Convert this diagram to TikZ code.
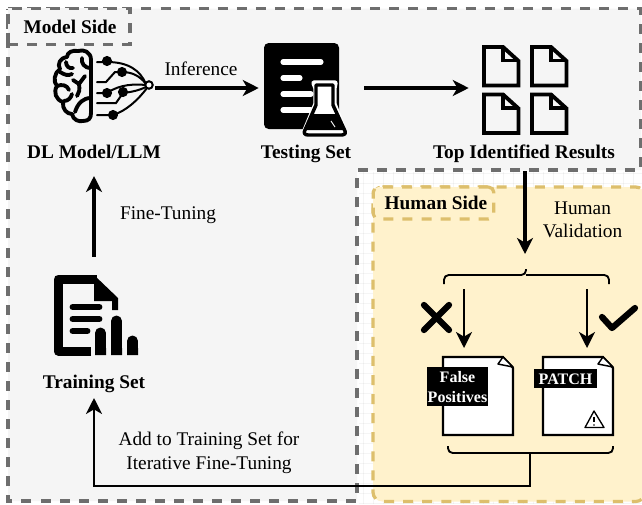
\documentclass[tikz,border=0pt]{standalone}
\usepackage{fontspec}
\setmainfont{Liberation Serif}
\usetikzlibrary{arrows.meta}
\definecolor{sidegray}{HTML}{F5F5F5}
\definecolor{dashgray}{HTML}{6E6E6E}
\definecolor{sideyellow}{HTML}{FFF2CC}
\definecolor{dashyellow}{HTML}{DDBF6C}
\tikzset{
  x=0.75pt,y=-0.75pt,
  graydash/.style={draw=dashgray,line width=2.4pt,dash pattern=on 7.5pt off 6.8pt},
  yellowdash/.style={draw=dashyellow,line width=2.4pt,dash pattern=on 7.5pt off 6.8pt},
  grayzone/.style={graydash,fill=sidegray},
  yellowzone/.style={yellowdash,fill=sideyellow,rounded corners=7pt},
  flow/.style={line width=2.3pt,-{Stealth[length=12pt,width=12pt,inset=3.5pt]}},
  thinflow/.style={line width=1.8pt,-{Stealth[length=12pt,width=12pt,inset=3.5pt]}},
  iconline/.style={line width=2.9pt,line join=round,line cap=round},
  bracket/.style={line width=1.4pt,rounded corners=3.5pt},
  title/.style={font=\fontsize{14.5pt}{17pt}\selectfont\bfseries,inner sep=0pt,anchor=base},
  plain/.style={font=\fontsize{14.5pt}{17pt}\selectfont,inner sep=0pt,anchor=base},
  inverse/.style={fill=black,text=white,inner sep=0pt},
  inversetext/.style={text=white,font=\fontsize{12pt}{14pt}\selectfont\bfseries,inner sep=0pt,anchor=base},
  docpage/.style={draw=black,fill=white,line width=1.6pt,line join=miter},
  faintgrid/.style={draw=black,opacity=0.04,line width=0.5pt},
}
\begin{document}
\begin{tikzpicture}
\useasboundingbox (0,0) rectangle (642,504);
\fill[white] (0,0) rectangle (642,504);
% zones
\path[grayzone] (8,8.5) -- (641,8.5) -- (641,170) -- (357,170) -- (357,501) -- (8,501) -- cycle;
\foreach \gx in {363,373,...,633}{\draw[faintgrid] (\gx,172) -- (\gx,504);}
\foreach \gy in {173,183,...,503}{\draw[faintgrid] (359,\gy) -- (642,\gy);}
\path[yellowzone] (373,187) -- (645,187) -- (645,501.5) -- (373,501.5) -- cycle;
\node[graydash,fill=sidegray,minimum width=91.5pt,minimum height=27.5pt,inner sep=0pt] (modeltab) at (69,26.5) {};
\node[title] (modellabel) at (70,33) {Model Side};
\node[yellowdash,fill=sideyellow,rounded corners=4pt,minimum width=90.5pt,minimum height=24pt,inner sep=0pt] (humantab) at (433.5,203) {};
\node[title] (humanlabel) at (436,209) {Human Side};

% invisible icon frames used as connector ends
\node[inner sep=0pt,minimum width=78pt,minimum height=57pt] (brain) at (103,88) {};
\node[inner sep=0pt,minimum width=78.75pt,minimum height=69pt] (testing) at (311.5,88) {};
\node[inner sep=0pt,minimum width=84pt,minimum height=124.5pt] (results) at (525,88) {};
\node[inner sep=0pt,minimum width=60pt,minimum height=121.5pt] (training) at (94,338) {};
\coordinate (toptip) at (525,254);
\coordinate (leftin) at (464,348);
\coordinate (leftout) at (464,289);
\coordinate (rightin) at (587,348);
\coordinate (rightout) at (587,289);
\coordinate (modeltop) at (94,176);
\coordinate (trainin) at (94,398);
\coordinate (bracestem) at (530,453);

% connectors
\draw[flow] (brain.east) -- (testing.west);
\draw[flow] (testing.east) -- (results.west);
\draw[flow] (training.north) -- (modeltop);
\draw[flow] (results.south) -- (toptip);
\draw[thinflow] (leftout) -- (leftin);
\draw[thinflow] (rightout) -- (rightin);
\draw[line width=1.4pt,-{Stealth[length=12pt,width=12pt,inset=3.5pt]}] (bracestem) -- (530,486) -- (94,486) -- (trainin);

% labels
\node[plain] (inf) at (201,75) {Inference};
\node[plain] (fine) at (168,219) {Fine-Tuning};
\node[plain] (hv1) at (582.5,214) {Human};
\node[plain] (hv2) at (582.5,237) {Validation};
\node[plain] (add1) at (209,445) {Add to Training Set for};
\node[plain] (add2) at (209,469) {Iterative Fine-Tuning};
\node[title] (lbrain) at (94,158.5) {DL Model/LLM};
\node[title] (ltesting) at (306,158) {Testing Set};
\node[title] (lresults) at (524,158) {Top Identified Results};
\node[title] (ltraining) at (94,388) {Training Set};

% brain icon
\begin{scope}[iconline]
\draw (91,60) .. controls (91,52) and (84,49) .. (78,51) .. controls (73,50) and (67,52) .. (67,57)
 .. controls (60,58) and (57,64) .. (60,69) .. controls (54,73) and (53,82) .. (57,86)
 .. controls (53,92) and (56,100) .. (63,102) .. controls (62,109) and (67,114) .. (72,114)
 .. controls (73,120) and (79,122) .. (83,121) .. controls (89,121) and (91,118) .. (91,113) -- cycle;
\draw (91,68) .. controls (84,68) and (81,63) .. (82,58);
\draw (66,62) .. controls (66,66) and (69,69) .. (73,68);
\draw (60,72) .. controls (65,75) and (68,76) .. (72,74);
\draw (85,76) -- (79,84) -- (73,80);
\draw (79,84) .. controls (80,90) and (79,93) .. (77,96);
\draw (57,86) .. controls (62,84) and (67,85) .. (69,90);
\draw (64,101) .. controls (68,101) and (71,98) .. (72,94);
\draw (91,98) .. controls (83,98) and (78,103) .. (75,112);
\end{scope}
\begin{scope}[line width=1.5pt,line cap=round]
\draw (97,62) -- (107,62) .. controls (128,62) and (140,70) .. (146,84);
\draw (97,82) -- (106,82) -- (115,72) -- (122,72) .. controls (132,72) and (140,76) .. (146,84);
\draw (97,93) -- (107,93) .. controls (120,84) and (135,84) .. (146,85);
\draw (97,103) -- (116,103) -- (123,93) .. controls (132,92) and (140,90) .. (146,87);
\draw (97,115) -- (113,115) .. controls (126,111) and (138,100) .. (147,88);
\fill (107,61) circle[radius=3.8pt] (122,72) circle[radius=3.8pt] (107,93) circle[radius=3.8pt] (123,92) circle[radius=3.8pt] (113,115) circle[radius=3.8pt];
\draw[fill=white] (149,85) circle[radius=2.8pt];
\end{scope}

% testing set icon
\fill[rounded corners=3.5pt] (264,43) rectangle (339,129);
\begin{scope}[white,line width=3.8pt,line cap=round]
\draw (283,62) -- (321,62);
\draw (283,78) -- (300,78);
\draw (283,94) -- (311,94);
\draw (283,110) -- (311,110);
\end{scope}
\path[fill=white,draw=white,line width=4pt,line join=round] (314,83) -- (335,83) -- (334,88) -- (334,104) -- (345,133) -- (304,133) -- (316,104) -- (316,88) -- cycle;
\draw[fill=white,line width=2.6pt,line join=round] (316,85) -- (333,85) -- (333,105) -- (345,131) .. controls (346,134) and (344,135) .. (342,135) -- (308,135) .. controls (305,135) and (303,133) .. (305,130) -- (316,105) -- cycle;
\fill (311,114) -- (338,114) -- (344,130) -- (306,130) -- cycle;
\draw[white,line width=.7pt] (331,121) -- (335,127);

% results icons
\foreach \dx/\dy in {0/0,48/0,0/47.5,48/47.5}{
\begin{scope}[shift={(\dx*.75pt,-\dy*.75pt)}]
\draw[line width=2.9pt,line join=miter] (484,47) -- (503,47) -- (518.5,61) -- (518.5,85.5) -- (484,85.5) -- cycle;
\draw[line width=2.5pt] (503,46) -- (503,60.5) -- (518,60.5);
\end{scope}}

% brackets
\draw[bracket] (444,284) -- (444,275) -- (526,275) -- (526,269);
\draw[bracket] (609,284) -- (609,275) -- (526,275);
\draw[bracket] (448,446) -- (448,453) -- (613,453) -- (613,446);

% cross and tick
\draw[line width=4.7pt,line cap=round] (424,305) -- (449,330) (449,305) -- (424,330);
\draw[line width=4.7pt,line cap=round,line join=round] (602,317) -- (612,328) -- (635,308);

% pages
\foreach \ox in {443,543}{
\begin{scope}[shift={(\ox*.75pt,0)}]
\path[docpage] (0,357) -- (60,357) -- (70,368) -- (70,435) -- (0,435) -- cycle;
\draw[fill=white,line width=1.1pt,line join=round] (55,364) -- (60,357) -- (70,367) -- cycle;
\end{scope}}
\node[inverse,minimum width=45.75pt,minimum height=29pt] (falsebox) at (457.5,386.5) {};
\node[inversetext] (false1) at (457.5,382) {False};
\node[inversetext] (false2) at (457.5,402) {Positives};
\node[inverse,minimum width=47pt,minimum height=14.5pt] (patchbox) at (565.5,378.5) {};
\node[inversetext] (patch) at (565.5,384) {PATCH};
\draw[line width=1pt,line join=round] (594,411) -- (604,427.5) -- (585,427.5) -- cycle;
\draw[line width=1.1pt] (594,416.5) -- (594,422);
\fill (594,425) circle[radius=0.7pt];

% training icon
\draw[line width=6.75pt,line join=round] (91,351) -- (58,351) -- (58,279) -- (97,279);
\fill (94,275) -- (118,298) -- (118,310) -- (112,310) -- (112,301) -- (94,301) -- cycle;
\begin{scope}[line width=5.2pt,line cap=round]
\draw (73,307) -- (99,307);
\draw (73,319) -- (99,319);
\draw (73,331) -- (87,331);
\end{scope}
\begin{scope}[line width=8.25pt,line cap=round]
\draw (100.5,333) -- (100.5,348);
\draw (116.5,321) -- (116.5,348);
\draw (132.5,341) -- (132.5,348);
\end{scope}
\fill (95,348) rectangle (106,355) (111,348) rectangle (122,355) (127,348) rectangle (138,355);
\end{tikzpicture}
\end{document}
